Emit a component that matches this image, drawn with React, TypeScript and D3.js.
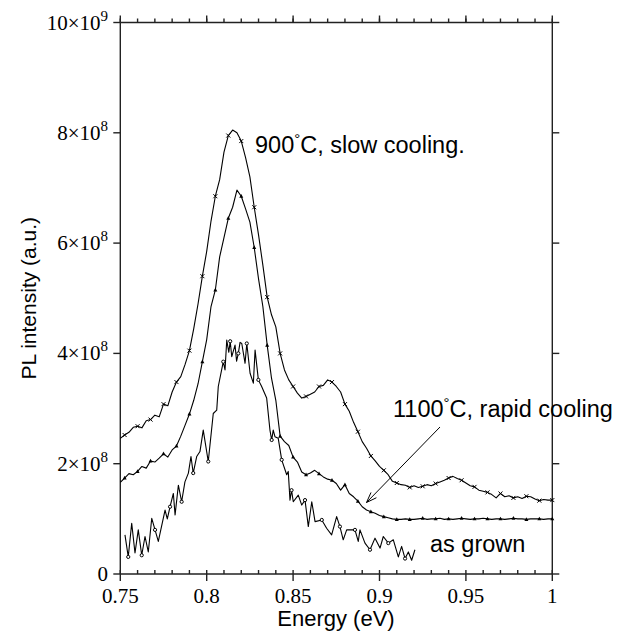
import React, { useEffect, useRef } from "react";
import * as d3 from "d3";

// photon energy grid (eV) shared by the two annealed samples
const gridEnergy = [
  0.75, 0.7525, 0.755, 0.7575, 0.76, 0.7625, 0.765, 0.7675, 0.77, 0.7725,
  0.775, 0.7775, 0.78, 0.7825, 0.785, 0.7875, 0.79, 0.7925, 0.795, 0.7975,
  0.8, 0.8025, 0.805, 0.8075, 0.81, 0.8125, 0.815, 0.8175, 0.82, 0.8225,
  0.825, 0.8275, 0.83, 0.8325, 0.835, 0.8375, 0.84, 0.8425, 0.845, 0.8475,
  0.85, 0.8525, 0.855, 0.8575, 0.86, 0.8625, 0.865, 0.8675, 0.87, 0.8725,
  0.875, 0.8775, 0.88, 0.8825, 0.885, 0.8875, 0.89, 0.8925, 0.895, 0.8975,
  0.9, 0.9025, 0.905, 0.9075, 0.91, 0.9125, 0.915, 0.9175, 0.92, 0.9225,
  0.925, 0.9275, 0.93, 0.9325, 0.935, 0.9375, 0.94, 0.9425, 0.945, 0.9475,
  0.95, 0.9525, 0.955, 0.9575, 0.96, 0.9625, 0.965, 0.9675, 0.97, 0.9725,
  0.975, 0.9775, 0.98, 0.9825, 0.985, 0.9875, 0.99, 0.9925, 0.995, 0.9975, 1.0,
];

// PL intensity in units of 1e8
const slowCooling = [
  2.46, 2.52, 2.57, 2.66, 2.68, 2.65, 2.78, 2.8, 2.88, 2.85,
  3.08, 3.05, 3.3, 3.48, 3.58, 3.8, 4.05, 4.45, 4.9, 5.4,
  5.85, 6.4, 6.85, 7.15, 7.65, 7.95, 8.05, 8.0, 7.85, 7.55,
  7.2, 6.65, 6.15, 5.6, 5.02, 4.7, 4.48, 4.0, 3.7, 3.52,
  3.4, 3.28, 3.19, 3.22, 3.26, 3.3, 3.4, 3.42, 3.52, 3.48,
  3.4, 3.3, 3.08, 2.95, 2.75, 2.58, 2.4, 2.28, 2.14, 2.05,
  1.95, 1.88, 1.8, 1.68, 1.65, 1.62, 1.61, 1.57, 1.6, 1.57,
  1.59, 1.62, 1.6, 1.64, 1.67, 1.7, 1.74, 1.77, 1.73, 1.7,
  1.65, 1.6, 1.58, 1.52, 1.5, 1.48, 1.44, 1.38, 1.46, 1.4,
  1.42, 1.38, 1.4, 1.37, 1.41, 1.4, 1.36, 1.33, 1.35, 1.34, 1.34,
];

const rapidCooling = [
  1.66, 1.74, 1.82, 1.8, 1.86, 1.95, 1.92, 2.05, 2.03, 2.1,
  2.18, 2.12, 2.25, 2.32, 2.5, 2.7, 2.9, 3.15, 3.45, 3.85,
  4.25, 4.85, 5.15, 5.75, 6.1, 6.45, 6.65, 6.96, 6.85, 6.62,
  6.38, 5.92, 5.35, 4.85, 4.15, 3.55, 3.15, 2.5, 2.4, 2.33,
  2.12, 2.03, 1.85, 1.8, 1.83, 1.88, 1.82, 1.76, 1.72, 1.7,
  1.64, 1.52, 1.62, 1.46, 1.4, 1.32, 1.22, 1.16, 1.13, 1.1,
  1.06, 1.04, 1.02, 1.0, 0.99, 0.99, 1.0, 0.99, 0.99, 1.0,
  1.01, 0.99, 1.0, 1.0, 1.01, 0.99, 1.0, 0.99, 1.0, 1.01,
  1.0, 0.99, 1.0, 1.0, 1.01, 1.0, 0.99, 1.0, 1.0, 0.99,
  1.0, 1.01, 1.0, 1.0, 0.99, 1.0, 1.0, 1.0, 0.99, 1.0, 1.0,
];

// as grown sample: noisy, read point by point
const asGrownEnergy = [
  0.7527, 0.7546, 0.7566, 0.7585, 0.7604, 0.7624, 0.7643, 0.7662, 0.7682, 0.7701,
  0.772, 0.7759, 0.7772, 0.7788, 0.7807, 0.7817, 0.7836, 0.7855, 0.7874, 0.7894,
  0.7909, 0.7922, 0.7942, 0.7961, 0.798, 0.8009, 0.8038, 0.8058, 0.8067, 0.8096,
  0.8106, 0.8116, 0.8128, 0.8136, 0.8145, 0.8164, 0.8173, 0.8183, 0.8193, 0.8203,
  0.8222, 0.8232, 0.8251, 0.827, 0.828, 0.8299, 0.8318, 0.8347, 0.8366, 0.8376,
  0.8385, 0.8395, 0.8414, 0.8434, 0.8463, 0.8472, 0.8482, 0.8491, 0.8501, 0.853,
  0.855, 0.8569, 0.8588, 0.8608, 0.8627, 0.8666, 0.8694, 0.8723, 0.8752, 0.8771,
  0.879, 0.881, 0.8839, 0.8858, 0.8877, 0.8887, 0.8916, 0.8945, 0.8974, 0.9003,
  0.9022, 0.9051, 0.908, 0.9109, 0.9128, 0.9148, 0.9167, 0.9186, 0.9205,
];
const asGrown = [
  0.71, 0.31, 0.92, 0.38, 0.8, 0.34, 0.68, 0.4, 1.01, 0.8,
  0.59, 1.16, 1.0, 1.22, 1.46, 1.07, 1.61, 1.31, 1.67, 1.83,
  2.13, 1.83, 2.13, 2.22, 2.61, 2.04, 2.91, 2.97, 3.4, 3.85,
  3.7, 4.24, 4.02, 4.22, 3.94, 4.15, 3.86, 4.0, 4.2, 4.18,
  3.82, 4.18, 3.64, 3.46, 4.06, 3.52, 3.4, 3.19, 2.61, 2.43,
  2.61, 2.49, 2.46, 2.07, 1.8, 1.86, 1.34, 1.52, 1.31, 1.43,
  1.25, 1.34, 0.86, 1.31, 0.95, 0.98, 0.83, 0.71, 1.04, 0.86,
  0.62, 0.8, 0.8, 0.8, 0.59, 0.8, 0.56, 0.44, 0.65, 0.47,
  0.68, 0.56, 0.62, 0.31, 0.5, 0.28, 0.4, 0.25, 0.44,
];

const xMajorTicks = [0.75, 0.8, 0.85, 0.9, 0.95, 1];
const xTickLabels = ["0.75", "0.8", "0.85", "0.9", "0.95", "1"];
const yTicks = [0, 2, 4, 6, 8, 10];
const yTickMantissa = ["0", "2\u00d710", "4\u00d710", "6\u00d710", "8\u00d710", "10\u00d710"];
const yTickExponent = ["", "8", "8", "8", "8", "9"];

const W = 625;
const H = 638;

function App() {
  const ref = useRef<SVGSVGElement | null>(null);

  useEffect(() => {
    const svg = d3.select(ref.current);
    svg.selectAll("*").remove();

    const left = 120.3, right = 552.3, top = 22.5, bottom = 574;
    const x = d3.scaleLinear().domain([0.75, 1]).range([left, right]);
    const y = d3.scaleLinear().domain([0, 10]).range([bottom, top]);

    const serif = "'Liberation Serif', 'DejaVu Serif', serif";
    const sans = "'Liberation Sans', Arial, sans-serif";
    const axisCol = "#222";

    // frame
    const frame = svg.append("g").attr("stroke", axisCol).attr("stroke-width", 1.4);
    frame.append("line").attr("x1", left).attr("x2", left).attr("y1", top).attr("y2", bottom);
    frame.append("line").attr("x1", right).attr("x2", right).attr("y1", top).attr("y2", bottom);
    frame.append("line").attr("x1", left).attr("x2", right).attr("y1", top).attr("y2", top);
    frame.append("line").attr("x1", left).attr("x2", right).attr("y1", bottom).attr("y2", bottom);

    // x ticks: minor every 0.01, majors every 0.05
    const minor = x.ticks(25);
    frame.selectAll(".mb").data(minor).enter().append("line")
      .attr("x1", d => x(d)).attr("x2", d => x(d))
      .attr("y1", bottom).attr("y2", bottom - 4);
    frame.selectAll(".mt").data(minor).enter().append("line")
      .attr("x1", d => x(d)).attr("x2", d => x(d))
      .attr("y1", top).attr("y2", top - 4);
    frame.selectAll(".Mb").data(xMajorTicks).enter().append("line")
      .attr("x1", d => x(d)).attr("x2", d => x(d))
      .attr("y1", bottom).attr("y2", bottom + 7);
    frame.selectAll(".Mt").data(xMajorTicks).enter().append("line")
      .attr("x1", d => x(d)).attr("x2", d => x(d))
      .attr("y1", top).attr("y2", top - 7);

    // y ticks, outward on both sides
    frame.selectAll(".yl").data(yTicks).enter().append("line")
      .attr("x1", left).attr("x2", left - 7)
      .attr("y1", d => y(d)).attr("y2", d => y(d));
    frame.selectAll(".yr").data(yTicks).enter().append("line")
      .attr("x1", right).attr("x2", right + 7)
      .attr("y1", d => y(d)).attr("y2", d => y(d));

    // tick labels
    svg.selectAll(".xt").data(xMajorTicks).enter().append("text")
      .attr("x", d => x(d)).attr("y", 603)
      .attr("text-anchor", "middle")
      .attr("font-family", serif).attr("font-size", 21)
      .text((d, i) => xTickLabels[i]);

    const yl = svg.selectAll(".ytl").data(yTicks).enter().append("text")
      .attr("x", 108).attr("y", d => y(d) + 7)
      .attr("text-anchor", "end")
      .attr("font-family", serif).attr("font-size", 21);
    yl.append("tspan").text((d, i) => yTickMantissa[i]);
    yl.append("tspan").attr("dy", -9).attr("font-size", 15)
      .text((d, i) => yTickExponent[i]);

    // axis titles
    svg.append("text")
      .attr("x", 336).attr("y", 626).attr("text-anchor", "middle")
      .attr("font-family", sans).attr("font-size", 22)
      .text("Energy (eV)");
    svg.append("text")
      .attr("transform", `translate(36,${(top + bottom) / 2}) rotate(-90)`)
      .attr("text-anchor", "middle")
      .attr("font-family", sans).attr("font-size", 21)
      .text("PL intensity (a.u.)");

    // curves
    const line = d3.line<[number, number]>()
      .x(d => x(d[0])).y(d => y(d[1]));

    const series = [
      { pts: gridEnergy.map((e, i) => [e, slowCooling[i]] as [number, number]), every: 3, kind: "cross" },
      { pts: gridEnergy.map((e, i) => [e, rapidCooling[i]] as [number, number]), every: 3, kind: "tri" },
      { pts: asGrownEnergy.map((e, i) => [e, asGrown[i]] as [number, number]), every: 4, kind: "dot" },
    ];

    series.forEach(s => {
      svg.append("path").datum(s.pts)
        .attr("d", line)
        .attr("fill", "none").attr("stroke", "#000").attr("stroke-width", 1.1)
        .attr("stroke-linejoin", "round");
      const marks = s.pts.filter((d, i) => i % s.every === 1);
      const g = svg.append("g");
      if (s.kind === "cross") {
        g.selectAll("path").data(marks).enter().append("path")
          .attr("d", d => {
            const cx = x(d[0]), cy = y(d[1]);
            return `M${cx - 2},${cy - 2}L${cx + 2},${cy + 2}M${cx - 2},${cy + 2}L${cx + 2},${cy - 2}`;
          })
          .attr("stroke", "#000").attr("stroke-width", 1);
      } else if (s.kind === "tri") {
        g.selectAll("path").data(marks).enter().append("path")
          .attr("d", d => {
            const cx = x(d[0]), cy = y(d[1]);
            return `M${cx},${cy - 2.2}L${cx + 2},${cy + 1.5}L${cx - 2},${cy + 1.5}Z`;
          })
          .attr("fill", "#000");
      } else {
        g.selectAll("circle").data(marks).enter().append("circle")
          .attr("cx", d => x(d[0])).attr("cy", d => y(d[1])).attr("r", 1.6)
          .attr("fill", "#fff").attr("stroke", "#000").attr("stroke-width", 1);
      }
    });

    // annotations
    const ann = (tx: number, ty: number, a: string, b: string) => {
      const t = svg.append("text").attr("x", tx).attr("y", ty)
        .attr("font-family", sans).attr("font-size", 23.5);
      t.append("tspan").text(a);
      t.append("tspan").attr("dy", -9).attr("font-size", 15).text("\u00b0");
      t.append("tspan").attr("dy", 9).text(b);
    };
    ann(255, 153, "900", "C, slow cooling.");
    ann(393, 417, "1100", "C, rapid cooling");
    svg.append("text").attr("x", 430).attr("y", 552)
      .attr("font-family", sans).attr("font-size", 23.5)
      .text("as grown");

    // arrow
    const x0 = 440, y0 = 427, x1 = 366.5, y1 = 502.5;
    const ang = Math.atan2(y1 - y0, x1 - x0);
    const hl = 11, ha = 0.35;
    svg.append("path")
      .attr("d", `M${x0},${y0}L${x1},${y1}` +
        `M${x1 - hl * Math.cos(ang - ha)},${y1 - hl * Math.sin(ang - ha)}L${x1},${y1}` +
        `L${x1 - hl * Math.cos(ang + ha)},${y1 - hl * Math.sin(ang + ha)}`)
      .attr("fill", "none").attr("stroke", "#000").attr("stroke-width", 1);
  }, []);

  return (
    <svg ref={ref} width={W} height={H}
      style={{ position: "absolute", left: 0, top: 0, background: "#fff" }} />
  );
}

export default App;
